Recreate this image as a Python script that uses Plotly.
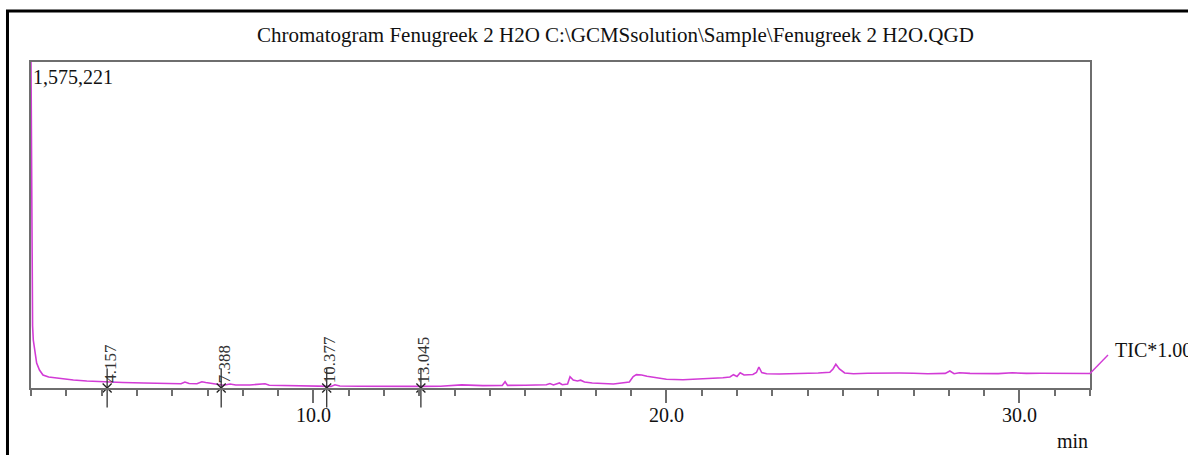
import plotly.graph_objects as go

# Retention time (min) and TIC intensity (counts)
times = [2.000, 2.030, 2.045, 2.065, 2.11, 2.16, 2.24, 2.34, 2.50, 2.82, 3.2, 3.58, 4.14, 4.6, 5.2,
         5.8, 6.25, 6.36, 6.48, 6.7, 6.84, 6.95, 7.1, 7.3, 7.45, 7.64, 7.8, 8.2, 8.63, 8.75,
         9.3, 9.9, 10.377, 10.5, 10.61, 10.75, 11.3, 12.0, 12.6, 13.0, 13.6, 14.2, 14.8, 15.35,
         15.43, 15.5, 16.0, 16.6, 16.7, 16.8, 16.97, 17.05, 17.2, 17.27, 17.36, 17.48, 17.57,
         17.68, 17.9, 18.5, 18.95, 19.06, 19.15, 19.3, 19.45, 19.6, 19.82, 20.0, 20.47, 20.95,
         21.25, 21.6, 21.8, 21.9, 22.0, 22.09, 22.2, 22.45, 22.55, 22.62, 22.7, 22.84, 23.2,
         23.78, 24.3, 24.63, 24.72, 24.8, 24.9, 25.05, 25.3, 25.7, 26.2, 26.6, 27.0, 27.4,
         27.9, 28.03, 28.15, 28.3, 28.6, 29.0, 29.4, 29.8, 30.2, 30.6, 31.0, 31.5, 32.0]
intensity = [1575221, 386600, 299600, 231900, 164300, 120800, 87000, 62800, 53200, 45900, 38700,
             33800, 29000, 26600, 24200, 22200, 20300, 29000, 21700, 20800, 30000, 26600, 22200,
             15500, 13500, 19300, 14500, 14500, 20300, 13500, 11600, 8700, 6800, 7700, 15500,
             9700, 8700, 7200, 7700, 7700, 8700, 15000, 11600, 12600, 30400, 12600, 13500, 15500,
             21700, 14500, 24200, 15500, 19300, 54600, 38700, 33800, 37700, 29000, 24200, 19300,
             29000, 55600, 64700, 62800, 57000, 53200, 47400, 42000, 40100, 43500, 44500, 49800,
             53200, 64300, 55600, 73900, 62800, 65200, 74900, 101500, 74900, 69100, 67600, 69100,
             72500, 75900, 91800, 114500, 91800, 72500, 69100, 71500, 70100, 72500, 71500, 69100,
             70500, 82100, 69100, 73900, 70500, 68600, 69600, 73400, 70500, 71500, 70100, 69100,
             70100]

peak_times = [4.157, 7.388, 10.377, 13.045]
peak_labels = ["4.157", "7.388", "10.377", "13.045"]
max_label = "1,575,221"
title_text = "Chromatogram Fenugreek 2 H2O C:\\GCMSsolution\\Sample\\Fenugreek 2 H2O.QGD"
trace_label = "TIC*1.00"
x_unit = "min"

SERIF = "Liberation Serif, Times New Roman, serif"
TRACE_COLOR = "#D23BD6"
AXIS_COLOR = "#6E6E6E"

fig = go.Figure()
fig.add_trace(go.Scatter(x=times, y=intensity, mode="lines",
                         line=dict(color=TRACE_COLOR, width=1.6), hoverinfo="skip"))
# peak markers crossing the baseline
fig.add_trace(go.Scatter(x=peak_times, y=[0] * len(peak_times), mode="markers", cliponaxis=False,
                         marker=dict(symbol="line-ns", size=28,
                                     line=dict(color="#333333", width=1.3)), hoverinfo="skip"))
fig.add_trace(go.Scatter(x=peak_times, y=[0] * len(peak_times), mode="markers", cliponaxis=False,
                         marker=dict(symbol="x-thin", size=9,
                                     line=dict(color="#222222", width=1.3)), hoverinfo="skip"))

annotations = []
for t, lab in zip(peak_times, peak_labels):
    annotations.append(dict(x=t, y=0, xref="x", yref="y", text=lab, showarrow=False,
                            textangle=-90, xanchor="center", yanchor="bottom",
                            xshift=3, yshift=3,
                            font=dict(family=SERIF, size=17, color="#333333")))
annotations += [
    dict(x=0.5524, y=1.083, xref="paper", yref="paper", text=title_text, showarrow=False,
         xanchor="center", yanchor="middle", font=dict(family=SERIF, size=21, color="#111111")),
    dict(x=0.0, y=1.0, xref="paper", yref="paper", text=max_label, showarrow=False,
         xanchor="left", yanchor="top", yshift=-2,
         font=dict(family=SERIF, size=20, color="#111111")),
    dict(x=1.0217, y=0.118, xref="paper", yref="paper", text=trace_label, showarrow=False,
         xanchor="left", yanchor="middle", font=dict(family=SERIF, size=20, color="#111111")),
    dict(x=1.0, y=-0.163, xref="paper", yref="paper", text=x_unit, showarrow=False,
         xanchor="right", yanchor="middle", font=dict(family=SERIF, size=20, color="#111111")),
]

shapes = [
    # outer frame
    dict(type="rect", xref="paper", yref="paper", x0=-0.0222, x1=1.11, y0=-0.26, y1=1.1565,
         line=dict(color="#000000", width=3)),
    # connector from trace end to TIC label
    dict(type="line", xref="paper", yref="paper", x0=1.0, y0=0.0445, x1=1.017, y1=0.101,
         line=dict(color=TRACE_COLOR, width=1.4)),
]

fig.update_layout(
    width=1188, height=455,
    margin=dict(l=31, r=98, t=62, b=67),
    paper_bgcolor="white", plot_bgcolor="white",
    showlegend=False,
    annotations=annotations, shapes=shapes,
    xaxis=dict(range=[2.0, 32.0], tickvals=[10, 20, 30], tickformat=".1f",
               ticks="outside", ticklen=13, tickwidth=1.5, tickcolor=AXIS_COLOR,
               ticklabelstandoff=-5,
               showline=True, linecolor=AXIS_COLOR, linewidth=1.5, mirror=True,
               showgrid=False, zeroline=False,
               tickfont=dict(family=SERIF, size=20, color="#111111"),
               minor=dict(dtick=1, tick0=0, ticks="outside", ticklen=6, tickwidth=1.5,
                          tickcolor=AXIS_COLOR, showgrid=False)),
    yaxis=dict(range=[0, 1575221], showticklabels=False, ticks="", showgrid=False,
               zeroline=False, showline=True, linecolor=AXIS_COLOR, linewidth=1.5, mirror=True),
)

fig.write_html("out.html", config={"displayModeBar": False},
               post_script="document.body.style.margin='0';document.body.style.overflow='hidden';")
